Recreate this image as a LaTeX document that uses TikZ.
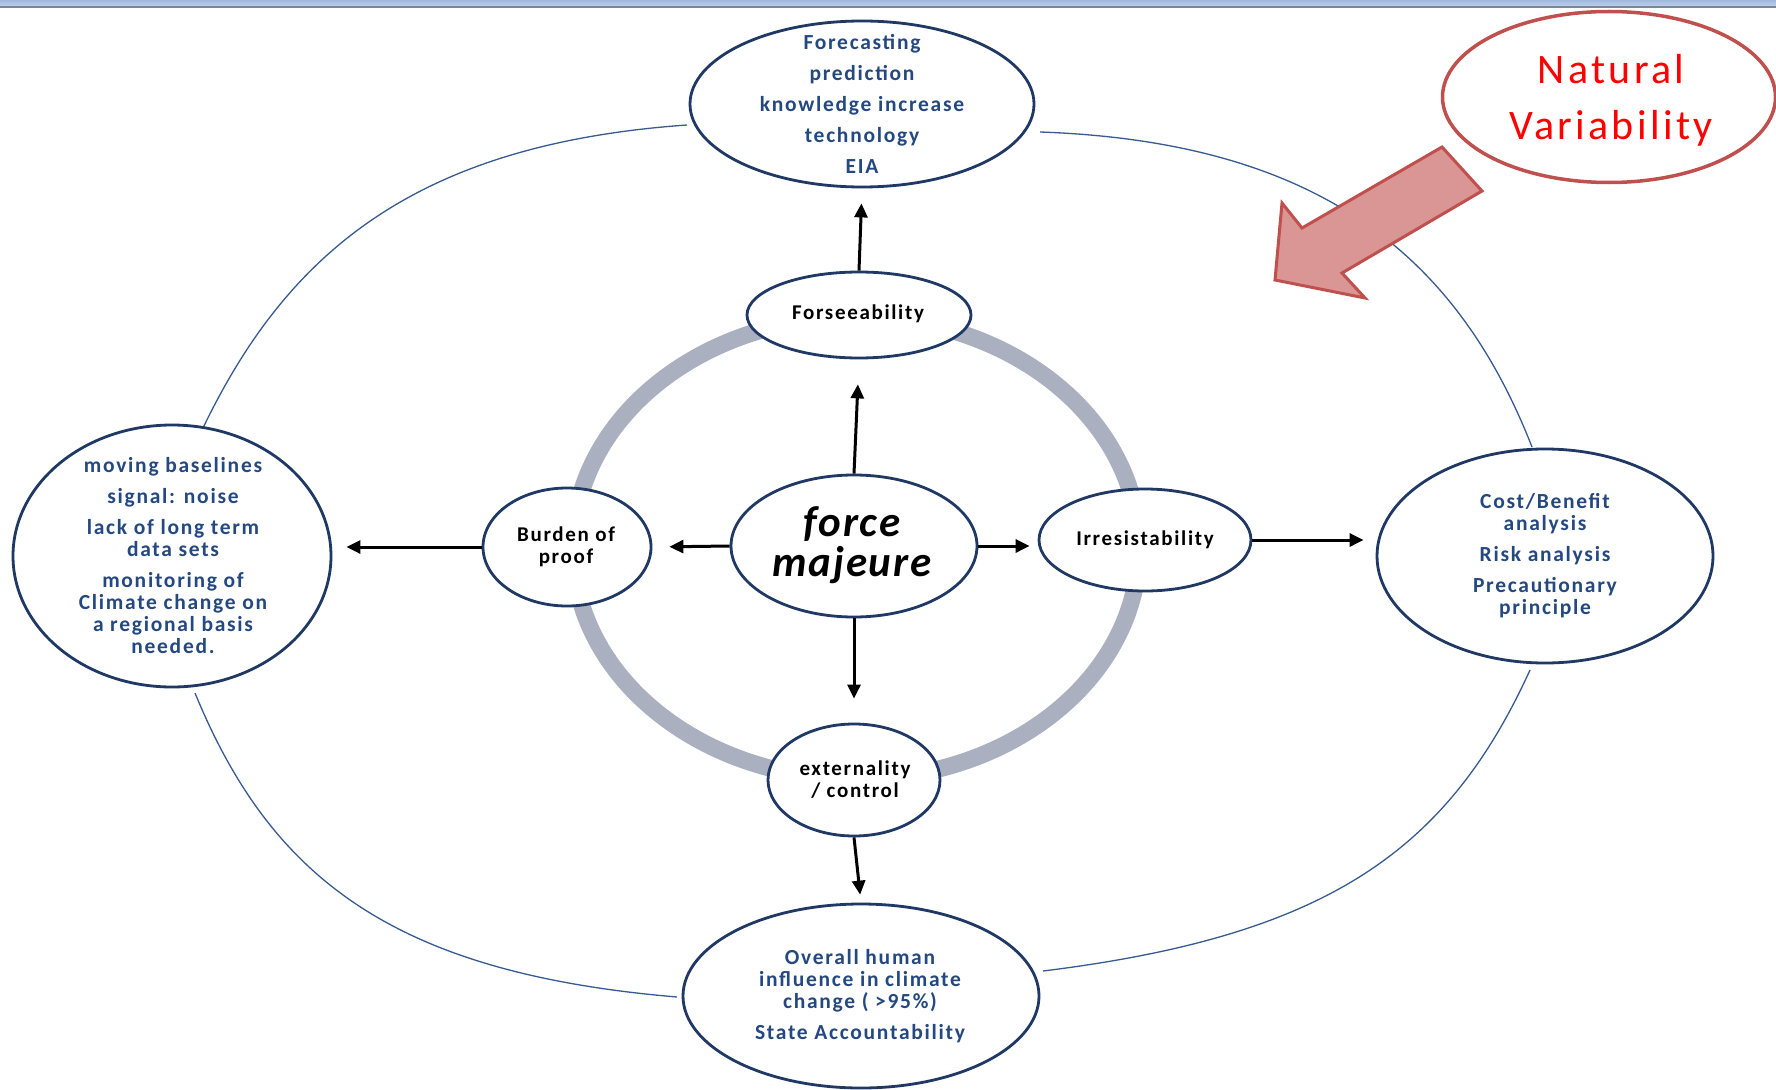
\documentclass[tikz,border=0pt]{standalone}
\usepackage{fontspec}
\setmainfont{Carlito}[LetterSpace=8]
\newfontfamily\fmfont{Carlito}[LetterSpace=4]
\newfontfamily\nvfont{Carlito}[LetterSpace=8]
\usetikzlibrary{shapes.geometric,arrows.meta}
\definecolor{navy}{RGB}{31,56,100}
\definecolor{txtblue}{RGB}{36,72,128}
\definecolor{arcblue}{RGB}{55,90,145}
\definecolor{ringgray}{RGB}{170,176,191}
\definecolor{nvred}{RGB}{192,80,77}
\definecolor{nvfill}{RGB}{217,150,148}
\definecolor{bartop}{RGB}{160,186,222}
\definecolor{barbot}{RGB}{188,207,233}
\definecolor{barline}{RGB}{125,134,150}
\begin{document}
\begin{tikzpicture}[x=1pt,y=-1pt,
  oval/.style={ellipse, draw=navy, line width=2.8pt, fill=white, inner sep=0pt},
  btext/.style={font=\fontsize{21.5}{22}\selectfont\bfseries, text=txtblue, align=center, inner sep=0pt},
  ktext/.style={font=\fontsize{21}{22}\selectfont\bfseries, text=black, align=center, inner sep=0pt},
  arr/.style={line width=3pt, -{Triangle[length=14pt,width=13pt]}},
  thinarc/.style={draw=arcblue, line width=1.3pt}]
\useasboundingbox (0,0) rectangle (1776,1089);
\fill[white] (0,0) rectangle (1776,1089);
% top bar
\shade[top color=bartop, bottom color=barbot] (0,0) rectangle (1776,6);
\draw[barline, line width=2pt] (0,7) -- (1776,7);
% outer thin arcs
\coordinate (a1s) at (195,445); \coordinate (a1e) at (687,125);
\coordinate (a2s) at (195,693); \coordinate (a2e) at (677,997);
\coordinate (a3s) at (1040,132); \coordinate (a3e) at (1532,447);
\coordinate (a4s) at (1530,670); \coordinate (a4e) at (1043,971);
\draw[thinarc] (a1s) .. controls (278,263) and (403,145) .. (a1e);
\draw[thinarc] (a2s) .. controls (271,878) and (393,973) .. (a2e);
\draw[thinarc] (a3s) .. controls (1325,142) and (1459,261) .. (a3e);
\draw[thinarc] (a4s) .. controls (1447,852) and (1326,936) .. (a4e);
% grey ring
\draw[ringgray, line width=17pt] (856,548) ellipse [x radius=283, y radius=231];
% red block arrow
\draw[nvred, fill=nvfill, line width=3pt, line join=miter]
  (1442,147) -- (1482,191) -- (1342,273) -- (1365,298) -- (1275,280) -- (1282,203) -- (1302,228) -- cycle;
% outer ellipses
\node[oval, minimum width=344, minimum height=166] (top) at (862,104) {};
\node[btext] (toptxt) at (862,104) {Forecasting\\[9pt]prediction\\[9pt]knowledge increase\\[9pt]technology\\[9pt]EIA};
\node[oval, minimum width=318, minimum height=262] (lft) at (172,556) {};
\node[btext] (lfttxt) at (173,556) {moving baselines\\[9pt]signal: noise\\[9pt]lack of long term\\data sets\\[9pt]monitoring of\\Climate change on\\a regional basis\\needed.};
\node[oval, minimum width=336, minimum height=214] (rgt) at (1545,556) {};
\node[btext] (rgttxt) at (1545,556) {Cost/Benefit\\analysis\\[9pt]Risk analysis\\[9pt]Precautionary\\principle};
\node[oval, minimum width=356, minimum height=184] (bot) at (861,996) {};
\node[btext] (bottxt) at (860,996) {Overall human\\influence in climate\\change ( >95\%)\\[9pt]State Accountability};
% inner ellipses
\node[oval, minimum width=224, minimum height=86] (fs) at (859,315) {};
\node[ktext] (fstxt) at (858,314) {Forseeability};
\node[oval, minimum width=168, minimum height=118] (bp) at (567,547) {};
\node[ktext] (bptxt) at (566,547) {Burden of\\proof};
\node[oval, minimum width=212, minimum height=102] (irr) at (1145,540) {};
\node[ktext] (irrtxt) at (1145,540) {Irresistability};
\node[oval, minimum width=172, minimum height=112] (ext) at (854,780) {};
\node[ktext] (exttxt) at (855,780) {externality\\/ control};
\node[oval, minimum width=246, minimum height=142] (fm) at (854,546) {};
\node[font=\fmfont\fontsize{43}{40}\selectfont\bfseries\itshape, align=center, inner sep=0pt] (fmtxt) at (852,545) {force\\majeure};
% natural variability
\node[ellipse, draw=nvred, line width=3.5pt, fill=white, inner sep=0pt, minimum width=333, minimum height=171] (nv) at (1609,97) {};
\node[font=\nvfont\fontsize{42}{56}\selectfont, text=red, align=center, inner sep=0pt] (nvtxt) at (1611,100) {Natural\\Variability};
% arrows
\draw[arr, shorten >=25pt] (fm.north) -- (fs.south);
\draw[arr, shorten >=15pt] (fs.north) -- (top.south);
\draw[arr, shorten >=17pt] (fm.west) -- (bp.east);
\draw[arr, shorten >=14pt] (bp.west) -- (bp.west -| lft.east);
\draw[arr, shorten >=8pt] (fm.east) -- (fm.east -| irr.west);
\draw[arr, shorten >=12pt] (irr.east) -- (irr.east -| rgt.west);
\draw[arr, shorten >=24pt] (fm.south) -- (ext.north);
\draw[arr, shorten >=8pt] (ext.south) -- (bot.north);
\end{tikzpicture}
\end{document}
